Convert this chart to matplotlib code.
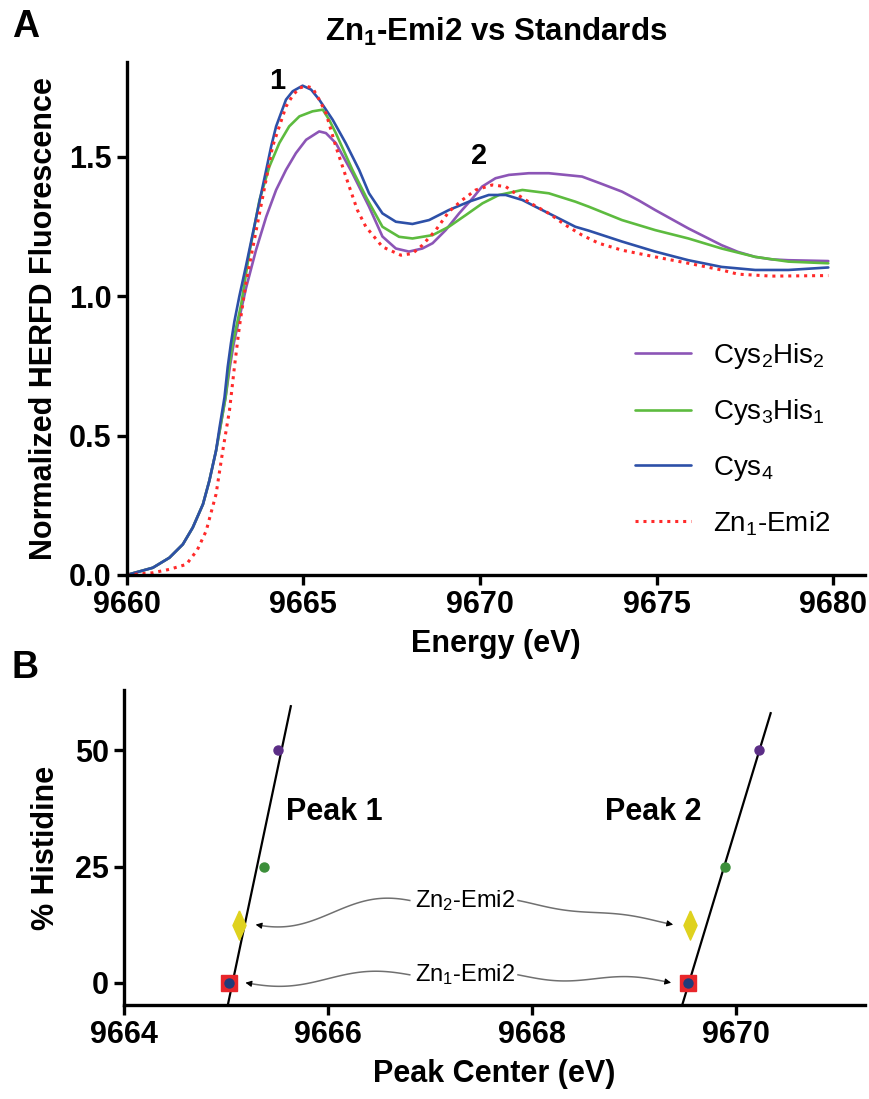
import numpy as np
import matplotlib
matplotlib.use("Agg")
import matplotlib.pyplot as plt

plt.rcParams['font.family'] = ['Liberation Sans', 'DejaVu Sans']
plt.rcParams['mathtext.fontset'] = 'custom'
plt.rcParams['mathtext.rm'] = 'Liberation Sans'
plt.rcParams['mathtext.it'] = 'Liberation Sans:italic'
plt.rcParams['mathtext.bf'] = 'Liberation Sans:bold'
plt.rcParams['mathtext.default'] = 'regular'

# ---- Panel A: HERFD spectra (energy in eV, normalized fluorescence) ----
cys2his2_e = [9660.0, 9660.74, 9661.21, 9661.59, 9661.87, 9662.16, 9662.34, 9662.53, 9662.65,
              9662.8, 9662.92, 9663.03, 9663.15, 9663.38, 9663.66, 9663.95, 9664.23, 9664.51,
              9664.79, 9665.08, 9665.45, 9665.64, 9665.92, 9666.39, 9666.86, 9667.24, 9667.62,
              9667.99, 9668.37, 9668.66, 9669.03, 9669.41, 9669.79, 9670.06, 9670.44, 9670.82,
              9671.38, 9671.95, 9672.89, 9673.4, 9674.02, 9674.5, 9674.96, 9675.43, 9675.9,
              9676.84, 9677.3, 9677.79, 9678.26, 9678.73, 9679.86]
cys2his2_y = [0.0, 0.026, 0.062, 0.11, 0.17, 0.254, 0.338, 0.446, 0.53,
              0.638, 0.746, 0.83, 0.9, 1.03, 1.165, 1.285, 1.381, 1.453,
              1.513, 1.561, 1.591, 1.585, 1.549, 1.441, 1.321, 1.214, 1.171,
              1.16, 1.171, 1.19, 1.237, 1.297, 1.351, 1.393, 1.423, 1.435,
              1.441, 1.441, 1.429, 1.405, 1.375, 1.343, 1.309, 1.276, 1.243,
              1.183, 1.159, 1.141, 1.132, 1.129, 1.126]

cys3his1_e = [9660.0, 9660.74, 9661.21, 9661.59, 9661.87, 9662.16, 9662.34, 9662.53, 9662.65,
              9662.8, 9662.9, 9663.0, 9663.12, 9663.24, 9663.47, 9663.76, 9664.04, 9664.32,
              9664.6, 9664.89, 9665.26, 9665.55, 9665.73, 9665.92, 9666.39, 9666.8, 9667.24,
              9667.71, 9668.09, 9668.66, 9669.12, 9669.6, 9670.07, 9670.54, 9671.2, 9671.95,
              9672.7, 9673.08, 9674.02, 9674.96, 9675.9, 9676.84, 9677.79, 9678.73, 9679.86]
cys3his1_y = [0.0, 0.026, 0.062, 0.11, 0.17, 0.254, 0.338, 0.446, 0.53,
              0.638, 0.746, 0.83, 0.9, 0.97, 1.154, 1.345, 1.465, 1.549,
              1.609, 1.645, 1.663, 1.669, 1.633, 1.585, 1.453, 1.35, 1.249,
              1.213, 1.207, 1.219, 1.249, 1.291, 1.333, 1.363, 1.381, 1.369,
              1.339, 1.321, 1.273, 1.237, 1.207, 1.171, 1.141, 1.124, 1.118]

cys4_e = [9660.0, 9660.74, 9661.21, 9661.59, 9661.87, 9662.16, 9662.34, 9662.53, 9662.63,
          9662.77, 9662.86, 9662.95, 9663.05, 9663.19, 9663.38, 9663.57, 9663.76, 9663.95,
          9664.09, 9664.23, 9664.51, 9664.7, 9664.98, 9665.22, 9665.45, 9665.83, 9666.2,
          9666.58, 9666.86, 9667.24, 9667.62, 9668.09, 9668.56, 9669.12, 9669.69, 9670.25,
          9670.73, 9671.2, 9671.57, 9672.14, 9672.7, 9673.08, 9674.02, 9674.96, 9675.9,
          9676.84, 9677.79, 9678.73, 9679.86]
cys4_y = [0.0, 0.026, 0.062, 0.11, 0.17, 0.254, 0.338, 0.446, 0.53,
          0.638, 0.746, 0.83, 0.91, 1.0, 1.11, 1.225, 1.34, 1.453,
          1.537, 1.609, 1.705, 1.735, 1.755, 1.741, 1.705, 1.633, 1.549,
          1.453, 1.369, 1.297, 1.267, 1.259, 1.273, 1.309, 1.339, 1.363,
          1.363, 1.345, 1.321, 1.285, 1.249, 1.235, 1.196, 1.16, 1.129,
          1.105, 1.094, 1.094, 1.103]

zn1_e = [9660.0, 9660.74, 9661.2, 9661.69, 9662.0, 9662.25, 9662.53, 9662.72, 9662.91,
         9663.05, 9663.19, 9663.38, 9663.76, 9664.13, 9664.51, 9664.7, 9664.89, 9665.08,
         9665.26, 9665.45, 9665.64, 9665.92, 9666.3, 9666.53, 9666.77, 9667.24, 9667.76,
         9668.09, 9668.37, 9668.75, 9669.12, 9669.5, 9669.88, 9670.35, 9670.73, 9671.0,
         9671.48, 9671.95, 9672.42, 9672.89, 9673.36, 9674.02, 9674.96, 9675.9, 9676.84,
         9677.3, 9678.26, 9679.86]
zn1_y = [0.0, 0.008, 0.02, 0.038, 0.09, 0.158, 0.29, 0.446, 0.59,
         0.746, 0.89, 1.05, 1.297, 1.537, 1.68, 1.72, 1.747, 1.753,
         1.747, 1.705, 1.657, 1.537, 1.393, 1.309, 1.249, 1.177, 1.147,
         1.153, 1.183, 1.237, 1.303, 1.345, 1.381, 1.399, 1.393, 1.369,
         1.33, 1.297, 1.255, 1.219, 1.19, 1.165, 1.141, 1.118, 1.094,
         1.079, 1.072, 1.074]

# ---- Panel B: peak centres vs histidine content ----
his_pct = [0, 25, 50]                       # Cys4, Cys3His1, Cys2His2
peak1_std = [9665.03, 9665.37, 9665.51]
peak2_std = [9669.53, 9669.89, 9670.22]
zn1_pct, zn1_peaks = 0, [9665.03, 9669.53]
zn2_pct, zn2_peaks = 12.5, [9665.13, 9669.55]

PURPLE = '#8c55b6'
GREEN = '#5dbb3f'
BLUE = '#2d50a8'
RED = '#ff2a2a'

fig = plt.figure(figsize=(8.7, 10.99), dpi=100)


def style_axes(ax):
    for side in ('top', 'right'):
        ax.spines[side].set_visible(False)
    for side in ('left', 'bottom'):
        ax.spines[side].set_linewidth(2.4)
    ax.tick_params(direction='out', length=7, width=2.4, labelsize=22, pad=4)
    for lab in ax.get_xticklabels() + ax.get_yticklabels():
        lab.set_fontweight('bold')


# Panel A
axA = fig.add_axes([0.1456, 0.4768, 0.8487, 0.4668])
line_kw = dict(lw=1.9, solid_joinstyle='round', solid_capstyle='round')
axA.plot(cys2his2_e, cys2his2_y, color=PURPLE, label=r'Cys$_2$His$_2$', **line_kw)
axA.plot(cys3his1_e, cys3his1_y, color=GREEN, label=r'Cys$_3$His$_1$', **line_kw)
axA.plot(cys4_e, cys4_y, color=BLUE, label=r'Cys$_4$', **line_kw)
axA.plot(zn1_e, zn1_y, color=RED, lw=2.2, ls=(0, (1, 1.6)), label=r'Zn$_1$-Emi2')
axA.set_xlim(9660, 9680.9)
axA.set_ylim(0, 1.84)
axA.set_xticks([9660, 9665, 9670, 9675, 9680])
axA.set_yticks([0.0, 0.5, 1.0, 1.5])
axA.set_yticklabels(['0.0', '0.5', '1.0', '1.5'])
style_axes(axA)
axA.set_xlabel('Energy (eV)', fontsize=22, fontweight='bold', labelpad=6)
axA.set_ylabel('Normalized HERFD Fluorescence', fontsize=22, fontweight='bold', labelpad=7)
axA.set_title(r'Zn$_1$-Emi2 vs Standards', fontsize=22.5, fontweight='bold', pad=15)
axA.text(9664.26, 1.773, '1', fontsize=21, fontweight='bold', ha='center', va='center')
axA.text(9669.97, 1.504, '2', fontsize=21, fontweight='bold', ha='center', va='center')
leg = axA.legend(loc='upper left', bbox_to_anchor=(0.655, 0.505), frameon=False,
                 fontsize=20, handlelength=2.0, handletextpad=0.8, labelspacing=0.95)

fig.text(0.029, 0.975, 'A', fontsize=27, fontweight='bold', ha='center', va='center')

# Panel B
axB = fig.add_axes([0.1425, 0.0855, 0.8518, 0.2867])
for peaks in (peak1_std, peak2_std):
    k, b = np.polyfit(his_pct, peaks, 1)
    yy = np.array([-4.8, 59.5 if peaks is peak1_std else 58.0])
    axB.plot(k * yy + b, yy, color='black', lw=1.6, zorder=2)
    axB.plot(peaks[2], his_pct[2], 'o', color='#5b2d86', ms=6.5, zorder=3)
    axB.plot(peaks[1], his_pct[1], 'o', color='#3c8f3a', ms=6.5, zorder=3)

diamond = [(0, 1), (0.45, 0), (0, -1), (-0.45, 0), (0, 1)]
for x in zn1_peaks:
    axB.plot(x, zn1_pct, 's', color='#e8262b', ms=12, zorder=3)
    axB.plot(x, zn1_pct, 'o', color='#1f3c7a', ms=6.5, zorder=4)
for x in zn2_peaks:
    axB.plot(x, zn2_pct, marker=diamond, color='#dfd21e', ms=21, ls='none', zorder=3)

axB.set_xlim(9664, 9671.26)
axB.set_ylim(-4.8, 63)
axB.set_xticks([9664, 9666, 9668, 9670])
axB.set_yticks([0, 25, 50])
style_axes(axB)
axB.set_xlabel('Peak Center (eV)', fontsize=22, fontweight='bold', labelpad=6)
axB.set_ylabel('% Histidine', fontsize=22, fontweight='bold', labelpad=10)
axB.text(9666.06, 36.8, 'Peak 1', fontsize=22, fontweight='bold', ha='center', va='center')
axB.text(9669.19, 36.8, 'Peak 2', fontsize=22, fontweight='bold', ha='center', va='center')


def wavy_arrow(ax, start, end, amp=1.0):
    t = np.linspace(0, 1, 120)
    s = t * t * (3 - 2 * t)
    x = start[0] + (end[0] - start[0]) * t
    y = start[1] + (end[1] - start[1]) * s + amp * np.sin(2 * np.pi * t)
    ax.plot(x[:-4], y[:-4], color='#707070', lw=1.1, zorder=2)
    ax.annotate('', xy=(x[-1], y[-1]), xytext=(x[-5], y[-5]),
                arrowprops=dict(arrowstyle='-|>', color='black', lw=0.8,
                                mutation_scale=9, shrinkA=0, shrinkB=0))


label_x = 9667.34
for pct, peaks, ty, name in ((zn2_pct, zn2_peaks, 17.7, r'Zn$_2$-Emi2'),
                             (zn1_pct, zn1_peaks, 1.7, r'Zn$_1$-Emi2')):
    axB.text(label_x, ty, name, fontsize=17, ha='center', va='center')
    wavy_arrow(axB, (label_x - 0.54, ty), (peaks[0] + 0.16, pct), amp=1.0)
    wavy_arrow(axB, (label_x + 0.52, ty), (peaks[1] - 0.17, pct), amp=-1.0)

fig.text(0.029, 0.392, 'B', fontsize=27, fontweight='bold', ha='center', va='center')

fig.savefig('out.png', dpi=100)
